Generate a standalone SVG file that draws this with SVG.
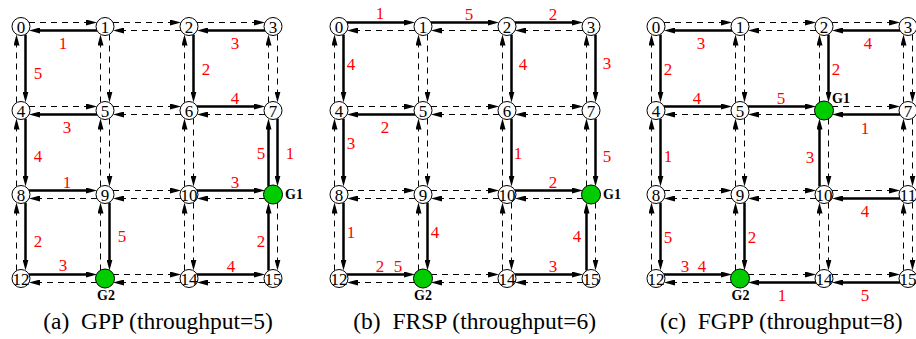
<svg xmlns="http://www.w3.org/2000/svg" width="916" height="339" viewBox="0 0 916 339">
<defs>
<style>
.d{fill:none;stroke:#000;stroke-width:1;stroke-dasharray:6 5;marker-end:url(#ah)}
.b{fill:none;stroke:#000;stroke-width:2.5;marker-end:url(#ah)}
.n circle{fill:#fff;stroke:#000;stroke-width:1}
.n text{font-family:"Liberation Serif","Times New Roman",serif;font-size:17px;text-anchor:middle;fill:#000}
.g circle{fill:#00cc00;stroke:#000;stroke-width:1}
.gl{font-family:"Liberation Serif","Times New Roman",serif;font-size:14px;font-weight:bold;fill:#000}
.l{font-family:"Liberation Serif","Times New Roman",serif;font-size:17px;text-anchor:middle;fill:#ff0000}
.cap{font-family:"Liberation Serif","Times New Roman",serif;font-size:23.5px;text-anchor:middle;fill:#000}
</style>
<marker id="ah" markerUnits="userSpaceOnUse" markerWidth="11" markerHeight="6" refX="2" refY="3" orient="auto"><path d="M0,0 L11,3 L0,6 z" fill="#000"/></marker>
</defs>

<!-- ===== Panel (a) ===== -->
<g id="panel-a">
<g id="a-connectors">
<path id="a-e0-1" class="d" d="M29 22.5H88"/><path id="a-e1-2" class="d" d="M113 22.5H172"/><path id="a-e2-3" class="d" d="M197 22.5H256"/>
<path id="a-e1-0" class="b" d="M97 30.5H38"/><path id="a-e2-1" class="d" d="M181 30.5H122"/><path id="a-e3-2" class="b" d="M265 30.5H206"/>
<path id="a-e4-5" class="d" d="M29 106.5H88"/><path id="a-e5-6" class="d" d="M113 106.5H172"/><path id="a-e6-7" class="b" d="M197 106.5H256"/>
<path id="a-e5-4" class="b" d="M97 114.5H38"/><path id="a-e6-5" class="d" d="M181 114.5H122"/><path id="a-e7-6" class="d" d="M265 114.5H206"/>
<path id="a-e8-9" class="b" d="M29 190.5H88"/><path id="a-e9-10" class="d" d="M113 190.5H172"/><path id="a-e10-11" class="b" d="M197 190.5H256"/>
<path id="a-e9-8" class="d" d="M97 198.5H38"/><path id="a-e10-9" class="d" d="M181 198.5H122"/><path id="a-e11-10" class="d" d="M265 198.5H206"/>
<path id="a-e12-13" class="b" d="M29 274.5H88"/><path id="a-e13-14" class="d" d="M113 274.5H172"/><path id="a-e14-15" class="b" d="M197 274.5H256"/>
<path id="a-e13-12" class="d" d="M97 282.5H38"/><path id="a-e14-13" class="d" d="M181 282.5H122"/><path id="a-e15-14" class="d" d="M265 282.5H206"/>
<path id="a-e0-4" class="b" d="M25.5 34.5V93.5"/><path id="a-e1-5" class="d" d="M109.5 34.5V93.5"/><path id="a-e2-6" class="b" d="M193.5 34.5V93.5"/><path id="a-e3-7" class="d" d="M277.5 34.5V93.5"/>
<path id="a-e4-0" class="d" d="M16.5 102.5V43.5"/><path id="a-e5-1" class="d" d="M100.5 102.5V43.5"/><path id="a-e6-2" class="d" d="M184.5 102.5V43.5"/><path id="a-e7-3" class="d" d="M268.5 102.5V43.5"/>
<path id="a-e4-8" class="b" d="M25.5 118.5V177.5"/><path id="a-e5-9" class="d" d="M109.5 118.5V177.5"/><path id="a-e6-10" class="d" d="M193.5 118.5V177.5"/><path id="a-e7-11" class="b" d="M277.5 118.5V177.5"/>
<path id="a-e8-4" class="d" d="M16.5 186.5V127.5"/><path id="a-e9-5" class="d" d="M100.5 186.5V127.5"/><path id="a-e10-6" class="d" d="M184.5 186.5V127.5"/><path id="a-e11-7" class="b" d="M268.5 186.5V127.5"/>
<path id="a-e8-12" class="b" d="M25.5 202.5V261.5"/><path id="a-e9-13" class="b" d="M109.5 202.5V261.5"/><path id="a-e10-14" class="d" d="M193.5 202.5V261.5"/><path id="a-e11-15" class="d" d="M277.5 202.5V261.5"/>
<path id="a-e12-8" class="d" d="M16.5 270.5V211.5"/><path id="a-e13-9" class="d" d="M100.5 270.5V211.5"/><path id="a-e14-10" class="d" d="M184.5 270.5V211.5"/><path id="a-e15-11" class="b" d="M268.5 270.5V211.5"/>
</g>
<g id="a-edge-labels">
<text class="l" x="63" y="49">1</text><text class="l" x="38" y="78.5">5</text><text class="l" x="235" y="48.5">3</text><text class="l" x="206" y="75">2</text>
<text class="l" x="235" y="103.5">4</text><text class="l" x="67" y="132.5">3</text><text class="l" x="261" y="159">5</text><text class="l" x="290" y="158.5">1</text>
<text class="l" x="38" y="161.5">4</text><text class="l" x="67" y="187.5">1</text><text class="l" x="235" y="187.5">3</text><text class="l" x="38" y="246.5">2</text>
<text class="l" x="122" y="242">5</text><text class="l" x="63" y="271">3</text><text class="l" x="231" y="272">4</text><text class="l" x="261" y="246.5">2</text>
</g>
<g id="a-n0" class="n"><circle cx="21" cy="26.5" r="9"/><text x="21" y="32.5">0</text></g>
<g id="a-n1" class="n"><circle cx="105" cy="26.5" r="9"/><text x="105" y="32.5">1</text></g>
<g id="a-n2" class="n"><circle cx="189" cy="26.5" r="9"/><text x="189" y="32.5">2</text></g>
<g id="a-n3" class="n"><circle cx="273" cy="26.5" r="9"/><text x="273" y="32.5">3</text></g>
<g id="a-n4" class="n"><circle cx="21" cy="110.5" r="9"/><text x="21" y="116.5">4</text></g>
<g id="a-n5" class="n"><circle cx="105" cy="110.5" r="9"/><text x="105" y="116.5">5</text></g>
<g id="a-n6" class="n"><circle cx="189" cy="110.5" r="9"/><text x="189" y="116.5">6</text></g>
<g id="a-n7" class="n"><circle cx="273" cy="110.5" r="9"/><text x="273" y="116.5">7</text></g>
<g id="a-n8" class="n"><circle cx="21" cy="194.5" r="9"/><text x="21" y="200.5">8</text></g>
<g id="a-n9" class="n"><circle cx="105" cy="194.5" r="9"/><text x="105" y="200.5">9</text></g>
<g id="a-n10" class="n"><circle cx="189" cy="194.5" r="9"/><text x="189" y="200.5">10</text></g>
<g id="a-n11" class="g"><circle cx="273" cy="194.5" r="9.5"/><text class="gl" x="285" y="198.5">G1</text></g>
<g id="a-n12" class="n"><circle cx="21" cy="278.5" r="9"/><text x="21" y="284.5">12</text></g>
<g id="a-n13" class="g"><circle cx="105" cy="278.5" r="9.5"/><text class="gl" x="106" y="300" text-anchor="middle">G2</text></g>
<g id="a-n14" class="n"><circle cx="189" cy="278.5" r="9"/><text x="189" y="284.5">14</text></g>
<g id="a-n15" class="n"><circle cx="273" cy="278.5" r="9"/><text x="273" y="284.5">15</text></g>
</g>

<!-- ===== Panel (b) ===== -->
<g id="panel-b" transform="translate(318 0)">
<g id="b-connectors">
<path id="b-e0-1" class="b" d="M29 22.5H88"/><path id="b-e1-2" class="b" d="M113 22.5H172"/><path id="b-e2-3" class="b" d="M197 22.5H256"/>
<path id="b-e1-0" class="d" d="M97 30.5H38"/><path id="b-e2-1" class="d" d="M181 30.5H122"/><path id="b-e3-2" class="d" d="M265 30.5H206"/>
<path id="b-e4-5" class="d" d="M29 106.5H88"/><path id="b-e5-6" class="d" d="M113 106.5H172"/><path id="b-e6-7" class="d" d="M197 106.5H256"/>
<path id="b-e5-4" class="b" d="M97 114.5H38"/><path id="b-e6-5" class="d" d="M181 114.5H122"/><path id="b-e7-6" class="d" d="M265 114.5H206"/>
<path id="b-e8-9" class="d" d="M29 190.5H88"/><path id="b-e9-10" class="d" d="M113 190.5H172"/><path id="b-e10-11" class="b" d="M197 190.5H256"/>
<path id="b-e9-8" class="d" d="M97 198.5H38"/><path id="b-e10-9" class="d" d="M181 198.5H122"/><path id="b-e11-10" class="d" d="M265 198.5H206"/>
<path id="b-e12-13" class="b" d="M29 274.5H88"/><path id="b-e13-14" class="d" d="M113 274.5H172"/><path id="b-e14-15" class="b" d="M197 274.5H256"/>
<path id="b-e13-12" class="d" d="M97 282.5H38"/><path id="b-e14-13" class="d" d="M181 282.5H122"/><path id="b-e15-14" class="d" d="M265 282.5H206"/>
<path id="b-e0-4" class="b" d="M25.5 34.5V93.5"/><path id="b-e1-5" class="d" d="M109.5 34.5V93.5"/><path id="b-e2-6" class="b" d="M193.5 34.5V93.5"/><path id="b-e3-7" class="b" d="M277.5 34.5V93.5"/>
<path id="b-e4-0" class="d" d="M16.5 102.5V43.5"/><path id="b-e5-1" class="d" d="M100.5 102.5V43.5"/><path id="b-e6-2" class="d" d="M184.5 102.5V43.5"/><path id="b-e7-3" class="d" d="M268.5 102.5V43.5"/>
<path id="b-e4-8" class="b" d="M25.5 118.5V177.5"/><path id="b-e5-9" class="d" d="M109.5 118.5V177.5"/><path id="b-e6-10" class="b" d="M193.5 118.5V177.5"/><path id="b-e7-11" class="b" d="M277.5 118.5V177.5"/>
<path id="b-e8-4" class="d" d="M16.5 186.5V127.5"/><path id="b-e9-5" class="d" d="M100.5 186.5V127.5"/><path id="b-e10-6" class="d" d="M184.5 186.5V127.5"/><path id="b-e11-7" class="d" d="M268.5 186.5V127.5"/>
<path id="b-e8-12" class="b" d="M25.5 202.5V261.5"/><path id="b-e9-13" class="b" d="M109.5 202.5V261.5"/><path id="b-e10-14" class="d" d="M193.5 202.5V261.5"/><path id="b-e11-15" class="d" d="M277.5 202.5V261.5"/>
<path id="b-e12-8" class="d" d="M16.5 270.5V211.5"/><path id="b-e13-9" class="d" d="M100.5 270.5V211.5"/><path id="b-e14-10" class="d" d="M184.5 270.5V211.5"/><path id="b-e15-11" class="b" d="M268.5 270.5V211.5"/>
</g>
<g id="b-edge-labels">
<text class="l" x="62" y="19">1</text><text class="l" x="151" y="19.5">5</text><text class="l" x="235" y="19.5">2</text>
<text class="l" x="33" y="70">4</text><text class="l" x="205" y="70">4</text><text class="l" x="289" y="68.5">3</text>
<text class="l" x="67" y="132.5">2</text><text class="l" x="33" y="149">3</text><text class="l" x="200" y="159">1</text><text class="l" x="289" y="162">5</text>
<text class="l" x="235" y="187.5">2</text><text class="l" x="33" y="237.5">1</text><text class="l" x="117" y="237.5">4</text>
<text class="l" x="62" y="272">2</text><text class="l" x="80" y="272">5</text><text class="l" x="235" y="272">3</text><text class="l" x="259" y="242">4</text>
</g>
<g id="b-n0" class="n"><circle cx="21" cy="26.5" r="9"/><text x="21" y="32.5">0</text></g>
<g id="b-n1" class="n"><circle cx="105" cy="26.5" r="9"/><text x="105" y="32.5">1</text></g>
<g id="b-n2" class="n"><circle cx="189" cy="26.5" r="9"/><text x="189" y="32.5">2</text></g>
<g id="b-n3" class="n"><circle cx="273" cy="26.5" r="9"/><text x="273" y="32.5">3</text></g>
<g id="b-n4" class="n"><circle cx="21" cy="110.5" r="9"/><text x="21" y="116.5">4</text></g>
<g id="b-n5" class="n"><circle cx="105" cy="110.5" r="9"/><text x="105" y="116.5">5</text></g>
<g id="b-n6" class="n"><circle cx="189" cy="110.5" r="9"/><text x="189" y="116.5">6</text></g>
<g id="b-n7" class="n"><circle cx="273" cy="110.5" r="9"/><text x="273" y="116.5">7</text></g>
<g id="b-n8" class="n"><circle cx="21" cy="194.5" r="9"/><text x="21" y="200.5">8</text></g>
<g id="b-n9" class="n"><circle cx="105" cy="194.5" r="9"/><text x="105" y="200.5">9</text></g>
<g id="b-n10" class="n"><circle cx="189" cy="194.5" r="9"/><text x="189" y="200.5">10</text></g>
<g id="b-n11" class="g"><circle cx="273" cy="194.5" r="9.5"/><text class="gl" x="285" y="198.5">G1</text></g>
<g id="b-n12" class="n"><circle cx="21" cy="278.5" r="9"/><text x="21" y="284.5">12</text></g>
<g id="b-n13" class="g"><circle cx="105" cy="278.5" r="9.5"/><text class="gl" x="105" y="300" text-anchor="middle">G2</text></g>
<g id="b-n14" class="n"><circle cx="189" cy="278.5" r="9"/><text x="189" y="284.5">14</text></g>
<g id="b-n15" class="n"><circle cx="273" cy="278.5" r="9"/><text x="273" y="284.5">15</text></g>
</g>

<!-- ===== Panel (c) ===== -->
<g id="panel-c" transform="translate(635 0)">
<g id="c-connectors">
<path id="c-e0-1" class="d" d="M29 22.5H88"/><path id="c-e1-2" class="d" d="M113 22.5H172"/><path id="c-e2-3" class="d" d="M197 22.5H256"/>
<path id="c-e1-0" class="b" d="M97 30.5H38"/><path id="c-e2-1" class="d" d="M181 30.5H122"/><path id="c-e3-2" class="b" d="M265 30.5H206"/>
<path id="c-e4-5" class="b" d="M29 106.5H88"/><path id="c-e5-6" class="b" d="M113 106.5H172"/><path id="c-e6-7" class="d" d="M197 106.5H256"/>
<path id="c-e5-4" class="d" d="M97 114.5H38"/><path id="c-e6-5" class="d" d="M181 114.5H122"/><path id="c-e7-6" class="b" d="M265 114.5H206"/>
<path id="c-e8-9" class="d" d="M29 190.5H88"/><path id="c-e9-10" class="d" d="M113 190.5H172"/><path id="c-e10-11" class="d" d="M197 190.5H256"/>
<path id="c-e9-8" class="d" d="M97 198.5H38"/><path id="c-e10-9" class="d" d="M181 198.5H122"/><path id="c-e11-10" class="b" d="M265 198.5H206"/>
<path id="c-e12-13" class="b" d="M29 274.5H88"/><path id="c-e13-14" class="d" d="M113 274.5H172"/><path id="c-e14-15" class="d" d="M197 274.5H256"/>
<path id="c-e13-12" class="d" d="M97 282.5H38"/><path id="c-e14-13" class="b" d="M181 282.5H122"/><path id="c-e15-14" class="b" d="M265 282.5H206"/>
<path id="c-e0-4" class="b" d="M25.5 34.5V93.5"/><path id="c-e1-5" class="d" d="M109.5 34.5V93.5"/><path id="c-e2-6" class="b" d="M193.5 34.5V93.5"/><path id="c-e3-7" class="d" d="M277.5 34.5V93.5"/>
<path id="c-e4-0" class="d" d="M16.5 102.5V43.5"/><path id="c-e5-1" class="d" d="M100.5 102.5V43.5"/><path id="c-e6-2" class="d" d="M184.5 102.5V43.5"/><path id="c-e7-3" class="d" d="M268.5 102.5V43.5"/>
<path id="c-e4-8" class="b" d="M25.5 118.5V177.5"/><path id="c-e5-9" class="d" d="M109.5 118.5V177.5"/><path id="c-e6-10" class="d" d="M193.5 118.5V177.5"/><path id="c-e7-11" class="d" d="M277.5 118.5V177.5"/>
<path id="c-e8-4" class="d" d="M16.5 186.5V127.5"/><path id="c-e9-5" class="d" d="M100.5 186.5V127.5"/><path id="c-e10-6" class="b" d="M184.5 186.5V127.5"/><path id="c-e11-7" class="d" d="M268.5 186.5V127.5"/>
<path id="c-e8-12" class="b" d="M25.5 202.5V261.5"/><path id="c-e9-13" class="b" d="M109.5 202.5V261.5"/><path id="c-e10-14" class="d" d="M193.5 202.5V261.5"/><path id="c-e11-15" class="d" d="M277.5 202.5V261.5"/>
<path id="c-e12-8" class="d" d="M16.5 270.5V211.5"/><path id="c-e13-9" class="d" d="M100.5 270.5V211.5"/><path id="c-e14-10" class="d" d="M184.5 270.5V211.5"/><path id="c-e15-11" class="d" d="M268.5 270.5V211.5"/>
</g>
<g id="c-edge-labels">
<text class="l" x="66" y="49">3</text><text class="l" x="33" y="75">2</text><text class="l" x="233" y="49">4</text><text class="l" x="201" y="75">2</text>
<text class="l" x="62" y="103.5">4</text><text class="l" x="146" y="103.5">5</text><text class="l" x="230" y="133.5">1</text>
<text class="l" x="33" y="162">1</text><text class="l" x="175" y="162.5">3</text><text class="l" x="230" y="217">4</text>
<text class="l" x="33" y="243">5</text><text class="l" x="117" y="243">2</text><text class="l" x="50" y="272">3</text><text class="l" x="67" y="272">4</text>
<text class="l" x="147" y="301">1</text><text class="l" x="230" y="301">5</text>
</g>
<g id="c-n0" class="n"><circle cx="21" cy="26.5" r="9"/><text x="21" y="32.5">0</text></g>
<g id="c-n1" class="n"><circle cx="105" cy="26.5" r="9"/><text x="105" y="32.5">1</text></g>
<g id="c-n2" class="n"><circle cx="189" cy="26.5" r="9"/><text x="189" y="32.5">2</text></g>
<g id="c-n3" class="n"><circle cx="273" cy="26.5" r="9"/><text x="273" y="32.5">3</text></g>
<g id="c-n4" class="n"><circle cx="21" cy="110.5" r="9"/><text x="21" y="116.5">4</text></g>
<g id="c-n5" class="n"><circle cx="105" cy="110.5" r="9"/><text x="105" y="116.5">5</text></g>
<g id="c-n6" class="g"><circle cx="189" cy="110.5" r="9.5"/><text class="gl" x="197" y="102.5">G1</text></g>
<g id="c-n7" class="n"><circle cx="273" cy="110.5" r="9"/><text x="273" y="116.5">7</text></g>
<g id="c-n8" class="n"><circle cx="21" cy="194.5" r="9"/><text x="21" y="200.5">8</text></g>
<g id="c-n9" class="n"><circle cx="105" cy="194.5" r="9"/><text x="105" y="200.5">9</text></g>
<g id="c-n10" class="n"><circle cx="189" cy="194.5" r="9"/><text x="189" y="200.5">10</text></g>
<g id="c-n11" class="n"><circle cx="273" cy="194.5" r="9"/><text x="273" y="200.5">11</text></g>
<g id="c-n12" class="n"><circle cx="21" cy="278.5" r="9"/><text x="21" y="284.5">12</text></g>
<g id="c-n13" class="g"><circle cx="105" cy="278.5" r="9.5"/><text class="gl" x="105.5" y="300" text-anchor="middle">G2</text></g>
<g id="c-n14" class="n"><circle cx="189" cy="278.5" r="9"/><text x="189" y="284.5">14</text></g>
<g id="c-n15" class="n"><circle cx="273" cy="278.5" r="9"/><text x="273" y="284.5">15</text></g>
</g>

<g id="captions">
<text class="cap" x="158" y="329" xml:space="preserve">(a)  GPP (throughput=5)</text>
<text class="cap" x="474.7" y="329" xml:space="preserve">(b)  FRSP (throughput=6)</text>
<text class="cap" x="781.3" y="329" xml:space="preserve">(c)  FGPP (throughput=8)</text>
</g>
</svg>
